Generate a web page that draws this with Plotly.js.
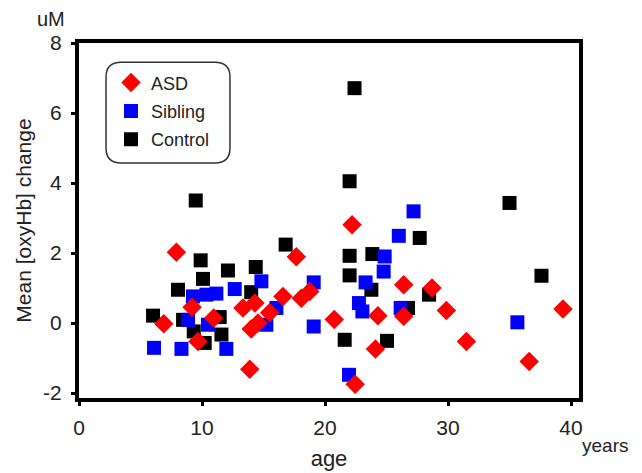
<!DOCTYPE html>
<html>
<head>
<meta charset="utf-8">
<script src="https://cdn.plot.ly/plotly-3.0.1.min.js"></script>
<style>html,body{margin:0;padding:0;background:#fff;}#chart{width:642px;height:473px;}</style>
</head>
<body>
<div id="chart"></div>
<script>
// ASD
const asdAge = [7.92, 6.89, 9.19, 10.95, 9.67, 13.33, 14.3, 14.0, 13.88, 15.5, 14.55, 16.58, 18.08, 18.76, 17.67, 20.75, 22.45, 22.2, 26.4, 28.7, 29.87, 24.3, 26.4, 24.1, 31.5, 36.6, 39.35];
const asdVal = [2.02, -0.02, 0.45, 0.14, -0.53, 0.43, 0.57, -0.17, -1.32, 0.29, 0.0, 0.76, 0.71, 0.9, 1.89, 0.1, -1.75, 2.81, 1.09, 1.0, 0.36, 0.21, 0.19, -0.74, -0.53, -1.1, 0.4];
// Sibling
const sibAge = [9.27, 10.36, 11.17, 12.66, 14.83, 8.86, 10.49, 6.1, 8.33, 11.98, 19.08, 16.05, 15.23, 19.08, 21.95, 27.2, 26.0, 24.85, 24.77, 23.3, 22.76, 23.04, 26.15, 35.64];
const sibVal = [0.76, 0.81, 0.84, 0.97, 1.19, 0.09, -0.05, -0.71, -0.74, -0.74, 1.16, 0.43, -0.05, -0.1, -1.48, 3.19, 2.49, 1.9, 1.47, 1.16, 0.57, 0.33, 0.43, 0.02];
// Control
const ctlAge = [9.49, 22.4, 22.0, 9.89, 12.11, 14.37, 10.08, 8.05, 14.0, 6.02, 8.46, 11.44, 9.33, 11.58, 10.22, 16.8, 22.0, 22.0, 21.6, 27.7, 23.85, 23.77, 26.75, 28.46, 25.04, 35.0, 37.6];
const ctlVal = [3.5, 6.71, 4.05, 1.79, 1.5, 1.6, 1.26, 0.95, 0.88, 0.21, 0.09, 0.17, -0.24, -0.33, -0.57, 2.24, 1.92, 1.36, -0.48, 2.43, 1.97, 0.95, 0.43, 0.81, -0.51, 3.43, 1.35];

const xTicks = [0, 10, 20, 30, 40];
const yTicks = [-2, 0, 2, 4, 6, 8];

const FONT = 'Liberation Sans, Arial, Helvetica, sans-serif';
const TXT = '#222';

const traces = [
  {x: ctlAge, y: ctlVal, name: 'Control', legendgroup: 'c', legendrank: 3, mode: 'markers', type: 'scatter',
   marker: {symbol: 'square', size: 14, color: '#000000', line: {width: 0}}},
  {x: sibAge, y: sibVal, name: 'Sibling', legendgroup: 's', legendrank: 2, mode: 'markers', type: 'scatter',
   marker: {symbol: 'square', size: 14, color: '#0000ff', line: {width: 0}}},
  {x: asdAge, y: asdVal, name: 'ASD', legendgroup: 'a', legendrank: 1, mode: 'markers', type: 'scatter',
   marker: {symbol: 'diamond', size: 15, color: '#ff0000', line: {width: 0}}}
];

function roundRect(x0, y0, x1, y1, rx, ry) {
  return `M ${x0+rx},${y0} L ${x1-rx},${y0} Q ${x1},${y0} ${x1},${y0+ry} L ${x1},${y1-ry} Q ${x1},${y1} ${x1-rx},${y1} L ${x0+rx},${y1} Q ${x0},${y1} ${x0},${y1-ry} L ${x0},${y0+ry} Q ${x0},${y0} ${x0+rx},${y0} Z`;
}

const layout = {
  width: 642, height: 473,
  margin: {l: 79, r: 63, t: 43, b: 75, pad: 0},
  paper_bgcolor: '#fff', plot_bgcolor: '#fff',
  font: {family: FONT, size: 18, color: TXT},
  showlegend: true,
  legend: {
    x: 0.064, y: 0.94, xanchor: 'left', yanchor: 'top',
    bgcolor: 'rgba(0,0,0,0)', borderwidth: 0,
    traceorder: 'grouped', tracegroupgap: 2,
    font: {family: FONT, size: 18, color: TXT}
  },
  xaxis: {
    range: [0, 40.65], tickvals: xTicks, ticktext: xTicks.map(String),
    showgrid: false, zeroline: false,
    showline: true, linewidth: 4, linecolor: '#000', mirror: true,
    ticks: 'outside', ticklen: 4, tickwidth: 3, tickcolor: '#000',
    ticklabelstandoff: 4,
    tickfont: {family: FONT, size: 21, color: TXT},
    title: {text: 'age', font: {family: FONT, size: 22, color: TXT}, standoff: 13}
  },
  yaxis: {
    range: [-2.143, 8], tickvals: yTicks, ticktext: yTicks.map(String),
    showgrid: false, zeroline: false,
    showline: true, linewidth: 4, linecolor: '#000', mirror: true,
    ticks: 'outside', ticklen: 4, tickwidth: 3, tickcolor: '#000',
    ticklabelstandoff: 5,
    tickfont: {family: FONT, size: 21, color: TXT},
    title: {text: 'Mean [oxyHb] change', font: {family: FONT, size: 21, color: TXT}, standoff: 7}
  },
  shapes: [{
    type: 'path', xref: 'paper', yref: 'paper', layer: 'above',
    path: roundRect(0.054, 0.662, 0.302, 0.946, 0.03, 0.042),
    line: {color: '#333', width: 1.5}, fillcolor: 'rgba(0,0,0,0)'
  }],
  annotations: [
    {text: 'uM', xref: 'paper', yref: 'paper', x: -0.056, y: 1.068, xanchor: 'center', yanchor: 'middle',
     showarrow: false, font: {family: FONT, size: 20, color: TXT}},
    {text: 'years', xref: 'paper', yref: 'paper', x: 1.052, y: -0.135, xanchor: 'center', yanchor: 'middle',
     showarrow: false, font: {family: FONT, size: 19, color: TXT}}
  ]
};

Plotly.newPlot('chart', traces, layout, {displayModeBar: false, staticPlot: true});
</script>
</body>
</html>
